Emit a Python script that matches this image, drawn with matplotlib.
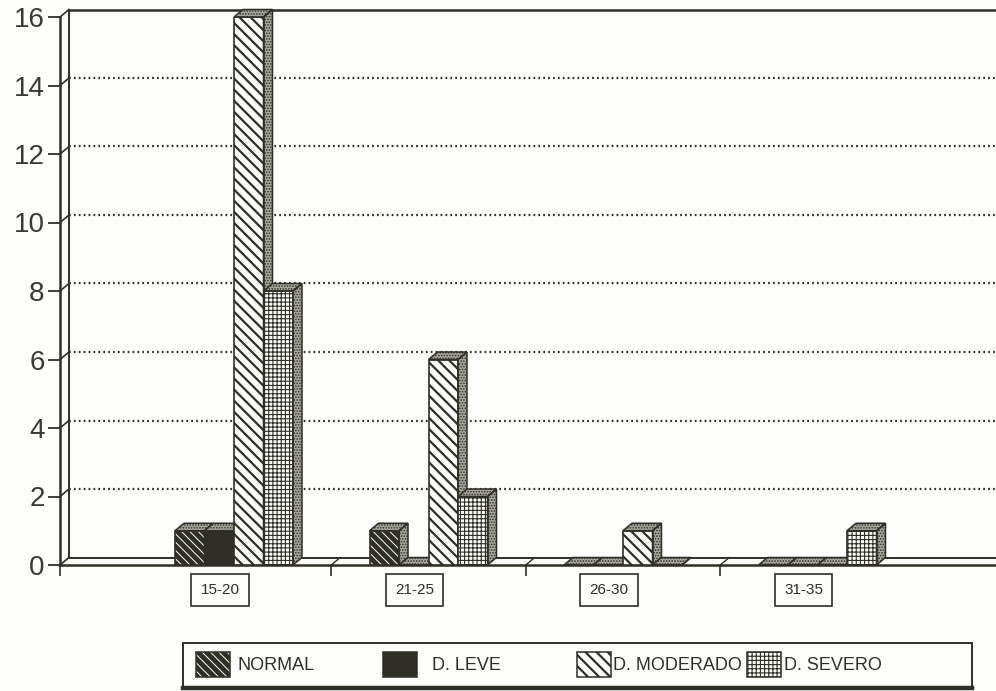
import matplotlib.pyplot as plt
import matplotlib.patches as mpatches

categories = ["15-20", "21-25", "26-30", "31-35"]
series_names = ["NORMAL", "D. LEVE", "D. MODERADO", "D. SEVERO"]
normal = [1, 1, 0, 0]
leve = [1, 0, 0, 0]
moderado = [16, 6, 1, 0]
severo = [8, 2, 0, 1]
y_ticks = [0, 2, 4, 6, 8, 10, 12, 14, 16]

INK = "#2f2f27"
PAPER = "#fdfdfb"
STIPPLE_FACE = "#a8a8a0"

# front-face fill of each series: facecolor, hatch, hatch colour, hatch width
styles = [
    dict(face=INK, hatch="\\" * 4, hcolor=PAPER, hlw=0.7),
    dict(face=INK, hatch=None, hcolor=INK, hlw=1.0),
    dict(face=PAPER, hatch="\\" * 3, hcolor=INK, hlw=1.6),
    dict(face=PAPER, hatch="+" * 4, hcolor=INK, hlw=0.8),
]

W, H, DPI = 996, 691, 100
PX_X = 194.5            # pixels per category
PX_Y = 34.25            # pixels per unit value
BAR_W = 29.5 / PX_X
DX = 9 / PX_X           # oblique depth offset
DY = 7.5 / PX_Y
X_LEFT = (60 - 234) / PX_X
X_RIGHT = (996 - 234) / PX_X
Y_MAX = y_ticks[-1]

plt.rcParams["font.family"] = ["Liberation Sans", "DejaVu Sans"]


def hatched(patch, lw):
    if hasattr(patch, "set_hatch_linewidth"):
        patch.set_hatch_linewidth(lw)
    return patch


def bar3d(ax, x0, h, style, z):
    front = mpatches.Rectangle((x0, 0), BAR_W, h, facecolor=style["face"],
                               edgecolor=style["hcolor"], hatch=style["hatch"],
                               linewidth=0, zorder=z)
    ax.add_patch(hatched(front, style["hlw"]))
    ax.add_patch(mpatches.Rectangle((x0, 0), BAR_W, h, fill=False,
                                    edgecolor=INK, linewidth=1.2, zorder=z + 0.1))
    top = [(x0, h), (x0 + DX, h + DY), (x0 + BAR_W + DX, h + DY), (x0 + BAR_W, h)]
    side = [(x0 + BAR_W, 0), (x0 + BAR_W + DX, DY),
            (x0 + BAR_W + DX, h + DY), (x0 + BAR_W, h)]
    for poly in (top, side):
        face = mpatches.Polygon(poly, closed=True, facecolor=STIPPLE_FACE,
                                edgecolor=INK, hatch="......", linewidth=0,
                                zorder=z, clip_on=False)
        ax.add_patch(hatched(face, 0.8))
        ax.add_patch(mpatches.Polygon(poly, closed=True, fill=False, edgecolor=INK,
                                      linewidth=1.1, zorder=z + 0.1, clip_on=False))


fig = plt.figure(figsize=(W / DPI, H / DPI), dpi=DPI, facecolor=PAPER)
ax = fig.add_axes([60 / W, 126 / H, 936 / W, 548 / H])
ax.set_facecolor("none")
ax.set_xlim(X_LEFT, X_RIGHT)
ax.set_ylim(0, Y_MAX)

for s in ("top", "right"):
    ax.spines[s].set_visible(False)
for s in ("left", "bottom"):
    ax.spines[s].set_color(INK)
    ax.spines[s].set_linewidth(1.8)

ax.set_yticks(y_ticks)
ax.set_yticklabels([str(v) for v in y_ticks], fontsize=20, color="#3a3a32")
ax.tick_params(axis="y", length=9, width=1.3, color=INK, pad=2)
boundaries = [k + 0.5 for k in range(len(categories) - 1)]
ax.set_xticks([X_LEFT] + boundaries)
ax.set_xticklabels([])
ax.tick_params(axis="x", length=8, width=1.2, color=INK)

# back wall, floor and dotted gridlines
ax.plot([X_LEFT + DX, X_LEFT + DX], [DY, Y_MAX + DY], color=INK, lw=1.4, clip_on=False)
ax.plot([X_LEFT + DX, X_RIGHT], [Y_MAX + DY] * 2, color=INK, lw=1.8, clip_on=False)
ax.plot([X_LEFT + DX, X_RIGHT], [DY, DY], color=INK, lw=1.4, clip_on=False)
for v in y_ticks:
    ax.plot([X_LEFT, X_LEFT + DX], [v, v + DY], color=INK, lw=1.2, clip_on=False)
    if 0 < v < Y_MAX:
        ax.plot([X_LEFT + DX, X_RIGHT], [v + DY] * 2, color=INK, lw=1.6,
                linestyle=(0, (0.8, 1.4)), clip_on=False)
for b in boundaries:
    ax.plot([b, b + DX], [0, DY], color=INK, lw=1.0)

# grouped oblique bars
values = [normal, leve, moderado, severo]
for k in range(len(categories)):
    for j, series in enumerate(values):
        x0 = k + (j - 2) * BAR_W
        bar3d(ax, x0, series[k], styles[j], 3 + j * 0.2)
    ax.text(k - 0.072, -0.73, categories[k], ha="center", va="center",
            fontsize=11, color=INK, clip_on=False,
            bbox=dict(boxstyle="square,pad=0.62", facecolor=PAPER,
                      edgecolor=INK, linewidth=1.2))

# legend box along the bottom
lax = fig.add_axes([183 / W, 3 / H, 789 / W, 45 / H])
lax.set_xlim(0, 789)
lax.set_ylim(0, 45)
lax.axis("off")
lax.add_patch(mpatches.Rectangle((0, 0), 789, 45, fill=False, edgecolor=INK,
                                 linewidth=1.4, clip_on=False))
lax.plot([0, 789], [0.5, 0.5], color=INK, lw=3.2, clip_on=False)
swatch_x = [13, 200, 394, 564]
text_x = [54, 249, 430, 601]
for j, name in enumerate(series_names):
    st = styles[j]
    sw = mpatches.Rectangle((swatch_x[j], 11), 34, 25, facecolor=st["face"],
                            edgecolor=st["hcolor"], hatch=st["hatch"], linewidth=0)
    lax.add_patch(hatched(sw, st["hlw"]))
    lax.add_patch(mpatches.Rectangle((swatch_x[j], 11), 34, 25, fill=False,
                                     edgecolor=INK, linewidth=1.1))
    lax.text(text_x[j], 23, name, ha="left", va="center", fontsize=13, color=INK)

fig.savefig("out.png", dpi=DPI, facecolor=PAPER)
